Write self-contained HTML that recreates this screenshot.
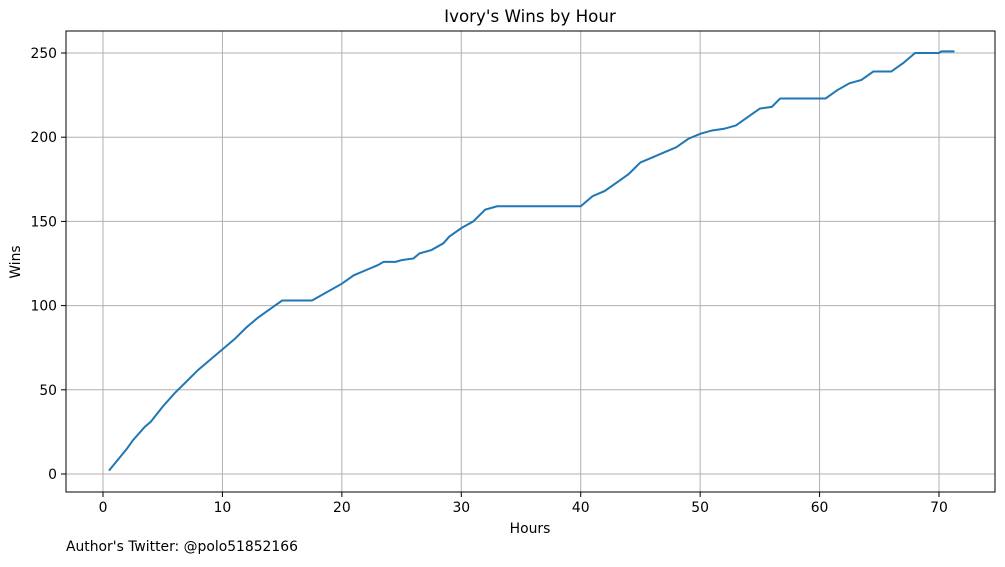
<!DOCTYPE html>
<html><head><meta charset="utf-8"><style>
body{margin:0;background:#fff;font-family:"Liberation Sans","DejaVu Sans",sans-serif}
svg text{font-family:"DejaVu Sans","Liberation Sans",sans-serif}
</style></head><body>
<svg id="chart" width="1005" height="562">
<rect width="1005" height="562" fill="#fff"/>
<g id="grid"></g>
<g id="ticks"></g>
<polyline id="line" fill="none" stroke="#1f77b4" stroke-width="2"/>
<rect x="66" y="31" width="929" height="461" fill="none" stroke="#000" stroke-width="1"/>
<text x="530" y="22" text-anchor="middle" font-size="16.7">Ivory's Wins by Hour</text>
<text x="530" y="533" text-anchor="middle" font-size="13.9">Hours</text>
<text x="20" y="262" text-anchor="middle" font-size="13.9" transform="rotate(-90 20 262)">Wins</text>
<text x="66" y="551" font-size="13.9">Author's Twitter: @polo51852166</text>
</svg>
<script>
const xTicks=[0,10,20,30,40,50,60,70];
const yTicks=[0,50,100,150,200,250];
const hours=[0.5,2,2.5,3.5,4,5,6,7,8,9,10,11,12,13,14,15,17.5,20,21,22,23,23.5,24.5,25,26,26.5,27.5,28.5,29,30,31,32,33,40,41,42,43,44,45,46,47,48,49,50,51,52,53,54,55,56,56.7,60.5,61.5,62.5,63.5,64.5,66,67,68,70,70.2,71.3];
const wins=[2,15,20,28,31,40,48,55,62,68,74,80,87,93,98,103,103,113,118,121,124,126,126,127,128,131,133,137,141,146,150,157,159,159,165,168,173,178,185,188,191,194,199,202,204,205,207,212,217,218,223,223,228,232,234,239,239,244,250,250,251,251];
const X=v=>103+v*(939-103)/70;
const Y=v=>474-v*(474-53)/250;
const ns="http://www.w3.org/2000/svg";
const grid=document.getElementById('grid'),ticks=document.getElementById('ticks');
function mk(tag,attrs,parent){const e=document.createElementNS(ns,tag);for(const k in attrs)e.setAttribute(k,attrs[k]);parent.appendChild(e);return e;}
xTicks.forEach(t=>{const x=X(t);
const g=mk('line',{x1:x,x2:x,y1:31,y2:492,stroke:'#b0b0b0','stroke-width':1},grid);


mk('line',{x1:x,x2:x,y1:492,y2:497,stroke:'#000'},ticks);
const tx=mk('text',{x:x,y:512,'text-anchor':'middle','font-size':13.9},ticks);tx.textContent=t;

});
yTicks.forEach(t=>{const y=Y(t);
const g=mk('line',{x1:66,x2:995,y1:y,y2:y,stroke:'#b0b0b0','stroke-width':1},grid);


mk('line',{x1:61,x2:66,y1:y,y2:y,stroke:'#000'},ticks);
const tx=mk('text',{x:57,y:y+5,'text-anchor':'end','font-size':13.9},ticks);tx.textContent=t;

});
document.getElementById('line').setAttribute('points',hours.map((h,i)=>X(h)+','+Y(wins[i])).join(' '));
</script>
</body></html>
